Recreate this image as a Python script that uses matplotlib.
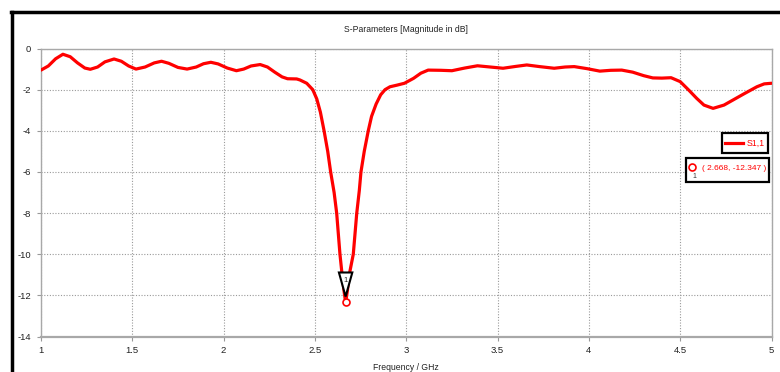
import matplotlib
matplotlib.use("Agg")
import matplotlib.pyplot as plt
import matplotlib.transforms as mtransforms
from matplotlib.patches import Rectangle, Polygon
from matplotlib.lines import Line2D

# S1,1 magnitude (dB) versus frequency (GHz)
freq = [1.00, 1.04, 1.08, 1.12, 1.16, 1.20, 1.24, 1.27, 1.31, 1.35, 1.40, 1.44,
        1.48, 1.52, 1.57, 1.62, 1.66, 1.70, 1.75, 1.80, 1.85, 1.89, 1.93, 1.97,
        2.02, 2.07, 2.11, 2.15, 2.20, 2.24, 2.28, 2.32, 2.35, 2.40, 2.418, 2.455,
        2.488, 2.51, 2.53, 2.55, 2.57, 2.586, 2.605, 2.619, 2.637, 2.647, 2.658,
        2.668, 2.678, 2.690, 2.710, 2.729, 2.743, 2.752, 2.770, 2.792, 2.81,
        2.835, 2.86, 2.884, 2.911, 2.95, 2.99, 3.04, 3.08, 3.12, 3.19, 3.25,
        3.32, 3.39, 3.46, 3.53, 3.60, 3.66, 3.73, 3.81, 3.87, 3.92, 3.99, 4.06,
        4.12, 4.18, 4.24, 4.30, 4.35, 4.40, 4.45, 4.50, 4.55, 4.59, 4.63, 4.68,
        4.74, 4.79, 4.85, 4.92, 4.96, 5.00]
s11 = [-1.05, -0.85, -0.50, -0.28, -0.40, -0.70, -0.95, -1.01, -0.90, -0.65, -0.51, -0.62,
       -0.85, -1.00, -0.90, -0.70, -0.62, -0.72, -0.92, -1.00, -0.90, -0.74, -0.67, -0.75,
       -0.95, -1.08, -1.00, -0.85, -0.78, -0.90, -1.15, -1.38, -1.47, -1.48, -1.53, -1.69,
       -2.00, -2.45, -3.10, -4.00, -5.00, -6.00, -7.00, -8.00, -10.00, -10.85, -11.70,
       -12.347, -11.75, -10.90, -10.00, -8.00, -6.90, -6.00, -5.00, -4.00, -3.30,
       -2.70, -2.25, -2.00, -1.86, -1.78, -1.69, -1.45, -1.20, -1.05, -1.06, -1.08,
       -0.95, -0.84, -0.90, -0.96, -0.87, -0.80, -0.88, -0.96, -0.90, -0.88, -0.98, -1.10,
       -1.06, -1.05, -1.15, -1.32, -1.43, -1.44, -1.42, -1.61, -2.05, -2.42, -2.75, -2.91,
       -2.75, -2.50, -2.20, -1.86, -1.72, -1.69]

marker_f = 2.668
marker_db = -12.347

x_ticks = [1, 1.5, 2, 2.5, 3, 3.5, 4, 4.5, 5]
x_labels = ['1', '1.5', '2', '2.5', '3', '3.5', '4', '4.5', '5']
y_ticks = [-14, -12, -10, -8, -6, -4, -2, 0]

plt.rcParams['font.family'] = ['Liberation Sans', 'DejaVu Sans']
plt.rcParams['axes.unicode_minus'] = False

W, H = 780, 372
fig = plt.figure(figsize=(W / 100, H / 100), dpi=100)
fig.patch.set_facecolor('white')


def fx(px):
    return px / W


def fy(py):
    return 1 - py / H


ax = fig.add_axes([fx(41), fy(336.5), fx(771.5) - fx(41), fy(48.5) - fy(336.5)])
ax.plot(freq, s11, color='#ff0000', lw=2.3, solid_capstyle='round', zorder=3)

ax.set_xlim(1, 5)
ax.set_ylim(-14, 0)
ax.set_xticks(x_ticks)
ax.set_xticklabels(x_labels)
ax.set_yticks(y_ticks)
ax.tick_params(labelsize=6.8, colors='#999999', labelcolor='#222222',
               length=3, width=0.8, pad=4)
ax.grid(True, color='#9a9a9a', linestyle=(0, (1, 1.5)), lw=0.8)
for side in ax.spines.values():
    side.set_color('#a8a8a8')
    side.set_linewidth(1.0)
ax.spines['bottom'].set_linewidth(1.6)

# marker 1 at the minimum: hollow circle plus downward triangle tag
ax.plot([marker_f], [marker_db], marker='o', ms=5, mfc='white', mec='#ff0000',
        mew=1.2, zorder=5)
tag = fig.dpi_scale_trans + mtransforms.ScaledTranslation(marker_f, marker_db, ax.transData)
ax.add_patch(Polygon([(-0.067, 0.30), (0.067, 0.30), (0, 0.06)], closed=True,
                     transform=tag, facecolor='white', edgecolor='black', lw=1.5, zorder=4))
ax.text(0, 0.22, '1', transform=tag, fontsize=5.5, ha='center', va='center',
        color='#222222', zorder=6)

fig.text(fx(406), fy(30), 'S-Parameters [Magnitude in dB]', fontsize=6.2,
         ha='center', va='center', color='#222222')
fig.text(fx(406), fy(367), 'Frequency / GHz', fontsize=6.2,
         ha='center', va='center', color='#222222')

# legend box
fig.add_artist(Rectangle((fx(722), fy(153)), fx(768) - fx(722), fy(133) - fy(153),
                         transform=fig.transFigure, facecolor='white',
                         edgecolor='black', lw=1.6, zorder=5))
fig.add_artist(Line2D([fx(725), fx(743)], [fy(143), fy(143)], transform=fig.transFigure,
                      color='#ff0000', lw=2.3, zorder=6))
fig.text(fx(747), fy(143), 'S1,1', fontsize=6.3, ha='left', va='center',
         color='#ff0000', zorder=6)

# marker readout box
fig.add_artist(Rectangle((fx(686), fy(182)), fx(769) - fx(686), fy(158) - fy(182),
                         transform=fig.transFigure, facecolor='white',
                         edgecolor='black', lw=1.6, zorder=5))
fig.add_artist(Line2D([fx(692)], [fy(167)], transform=fig.transFigure, marker='o',
                      ms=5, mfc='white', mec='#ff0000', mew=1.2, zorder=6))
fig.text(fx(694), fy(176), '1', fontsize=5, ha='center', va='center',
         color='#333333', zorder=6)
fig.text(fx(734), fy(168), '( {:.3f}, {:.3f} )'.format(marker_f, marker_db),
         fontsize=6, ha='center', va='center', color='#ff0000', zorder=6)

# heavy frame along the top and left edges
fig.add_artist(Line2D([fx(12.5), fx(12.5)], [0, fy(12)], transform=fig.transFigure,
                      color='black', lw=2.5))
fig.add_artist(Line2D([fx(11.3), 1], [fy(12.3), fy(12.3)], transform=fig.transFigure,
                      color='black', lw=2.5))

fig.savefig('out.png', dpi=100, facecolor='white')
